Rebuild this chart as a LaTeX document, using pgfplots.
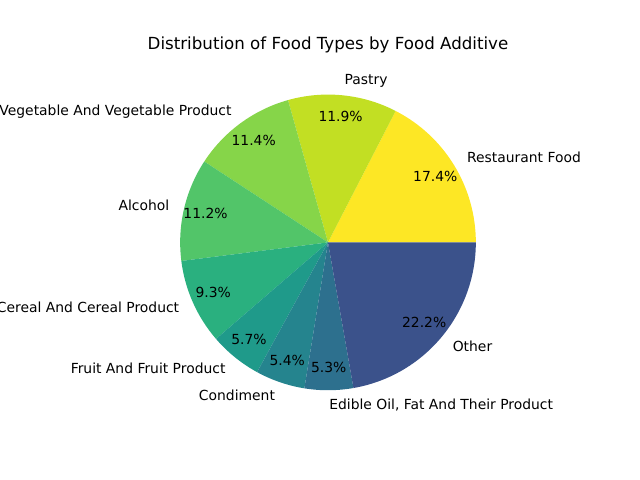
\documentclass[border=0pt]{standalone}
\usepackage{pgfplots}
\pgfplotsset{compat=1.18}
\usepackage{pgfplotstable}
\usepackage{fontspec}
\setmainfont{DejaVu Sans}

% viridis, sampled 1.0 -> 0.25
\definecolor{s0}{HTML}{FDE725}
\definecolor{s1}{HTML}{C2DF23}
\definecolor{s2}{HTML}{86D549}
\definecolor{s3}{HTML}{52C569}
\definecolor{s4}{HTML}{2AB07F}
\definecolor{s5}{HTML}{1F9A8A}
\definecolor{s6}{HTML}{25848E}
\definecolor{s7}{HTML}{2D708E}
\definecolor{s8}{HTML}{3B528B}

\newcommand\labfont{\fontsize{10}{12}\selectfont}

\pgfplotstableread[col sep=semicolon]{
label;pct
Restaurant Food;17.4
Pastry;11.9
Vegetable And Vegetable Product;11.4
Alcohol;11.2
Cereal And Cereal Product;9.3
Fruit And Fruit Product;5.7
Condiment;5.4
Edible Oil, Fat And Their Product;5.3
Other;22.2
}\pietable

\begin{document}
\begin{tikzpicture}
\begin{axis}[at={(57.6pt,-41.472pt)}, anchor=north west, scale only axis,
  width=357.12pt, height=266.112pt,
  xmin=-1.6775, xmax=1.6775, ymin=-1.25, ymax=1.25,
  hide axis, clip=false]
  \def\cum{0}
  \pgfplotsforeachungrouped \i in {0,...,8}{%
    \pgfplotstablegetelem{\i}{pct}\of\pietable \let\p\pgfplotsretval
    \pgfplotstablegetelem{\i}{label}\of\pietable \let\lab\pgfplotsretval
    \pgfmathsetmacro\a{\cum/99.8*360}%
    \pgfmathsetmacro\b{(\cum+\p)/99.8*360}%
    \pgfmathsetmacro\m{(\a+\b)/2}%
    \pgfmathsetmacro\cx{cos(\m)}%
    \pgfmathsetmacro\sy{sin(\m)}%
    \ifdim\cx pt>0pt \def\anc{west}\else\def\anc{east}\fi
    \edef\temp{%
      \noexpand\fill[s\i] (axis cs:0,0) -- (axis cs:{cos(\a)},{sin(\a)})
        arc[start angle=\a, end angle=\b, radius=106.4448pt] -- cycle;
      \noexpand\node[font=\noexpand\labfont, anchor=\anc, inner sep=0pt,
        text height=7.6pt, text depth=1.4pt]
        at (axis cs:{1.1*\cx},{1.1*\sy}) {\lab};
      \noexpand\node[font=\noexpand\labfont, anchor=center, inner sep=0pt,
        text height=7.6pt, text depth=1.4pt]
        at (axis cs:{0.85*\cx},{0.85*\sy}) {\p\noexpand\%};
    }%
    \temp
    \pgfmathsetmacro\cum{\cum+\p}%
  }
  \node[anchor=base, inner sep=0pt, font=\fontsize{12}{14.4}\selectfont]
    at ([yshift=6pt]axis cs:0,1.25) {Distribution of Food Types by Food Additive};
\end{axis}
\pgfresetboundingbox
\path[use as bounding box] (0,0) rectangle (460.8pt,-345.6pt);
\end{tikzpicture}
\end{document}
